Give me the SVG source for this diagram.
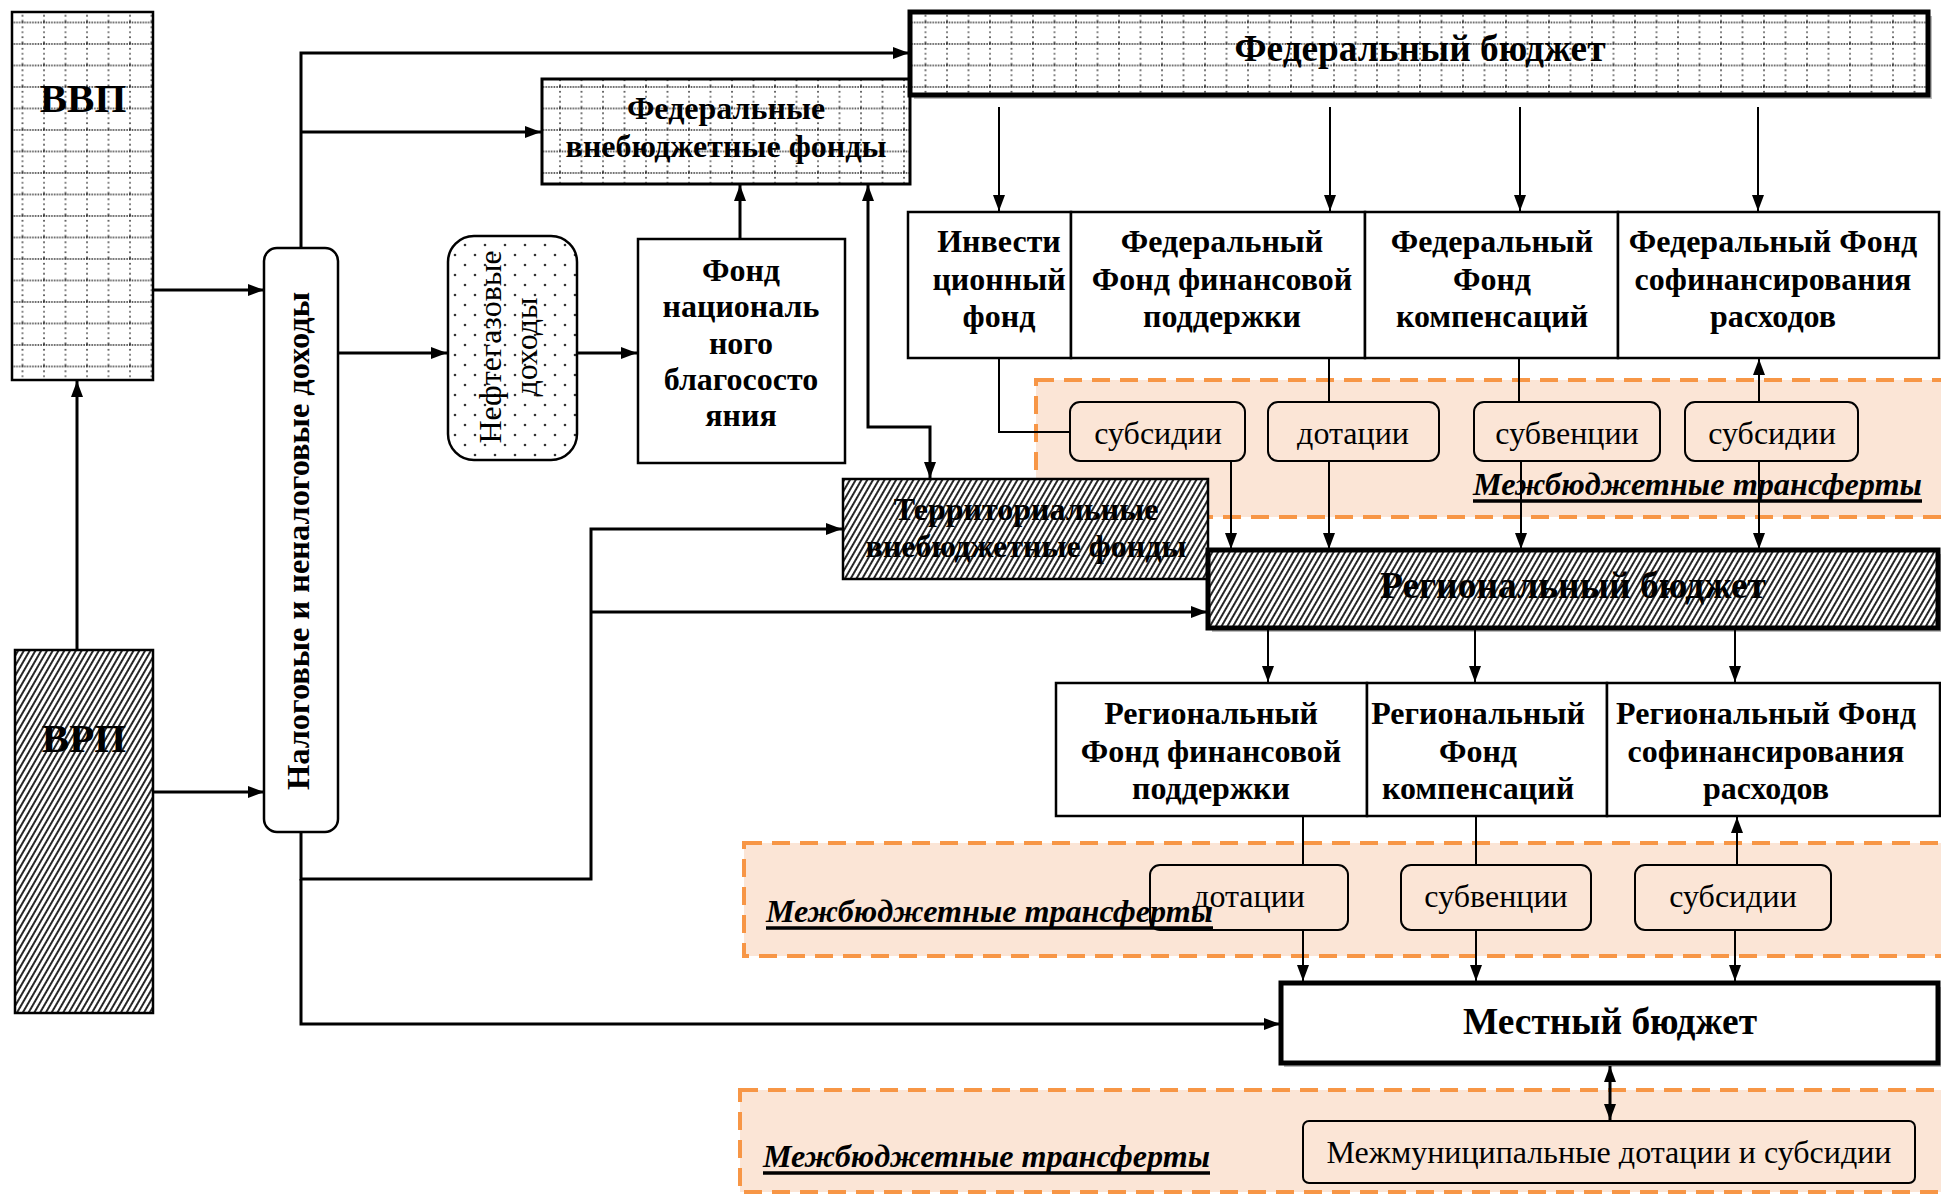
<svg xmlns="http://www.w3.org/2000/svg" width="1941" height="1194" viewBox="0 0 1941 1194">
<style>
.b{font-family:"Liberation Serif","Times New Roman",serif;font-weight:bold;font-size:32px;text-anchor:middle;fill:#000}
.r{font-family:"Liberation Serif","Times New Roman",serif;font-size:32px;text-anchor:middle;fill:#000}
.t{font-family:"Liberation Serif","Times New Roman",serif;font-weight:bold;font-size:37px;text-anchor:middle;fill:#000}
.big{font-family:"Liberation Serif","Times New Roman",serif;font-weight:bold;font-size:41px;text-anchor:middle;fill:#000}
.mt{font-family:"Liberation Serif","Times New Roman",serif;font-weight:bold;font-style:italic;font-size:32px;fill:#000}
.box{fill:#fff;stroke:#000;stroke-width:2.5}
.tr{fill:#fbe5d6;stroke:#000;stroke-width:2}
.reg{fill:#fbe5d6;stroke:#f79646;stroke-width:4;stroke-dasharray:18 10}
.ul{stroke:#000;stroke-width:3.5}
.c{fill:none;stroke:#000;stroke-width:3}
.c2{fill:none;stroke:#000;stroke-width:2}
.ar{marker-end:url(#ah)}
.ar2{marker-start:url(#ah);marker-end:url(#ah)}
</style>
<defs>
<marker id="ah" viewBox="0 0 16 12" refX="16" refY="6" markerWidth="16" markerHeight="12" markerUnits="userSpaceOnUse" orient="auto-start-reverse"><path d="M0,0L16,6L0,12z" fill="#000"/></marker>
<pattern id="grid" width="21.5" height="21.5" patternUnits="userSpaceOnUse">
<rect width="21.5" height="21.5" fill="#fff"/>
<line x1="0" y1="1" x2="21.5" y2="1" stroke="#222" stroke-width="1.4" stroke-dasharray="1.5 1.2"/>
<line x1="1" y1="0" x2="1" y2="21.5" stroke="#222" stroke-width="1.4" stroke-dasharray="1.5 3.5"/>
</pattern>
<pattern id="hatch" width="5" height="5" patternUnits="userSpaceOnUse" patternTransform="rotate(30)">
<rect width="5" height="5" fill="#fff"/>
<line x1="1" y1="0" x2="1" y2="5" stroke="#000" stroke-width="1.7"/>
</pattern>
<pattern id="dots" width="20" height="20" patternUnits="userSpaceOnUse">
<rect width="20" height="20" fill="#fff"/>
<circle cx="5" cy="5" r="1.3" fill="#333"/>
<circle cx="15" cy="15" r="1.3" fill="#333"/>
</pattern>
</defs>
<rect width="1941" height="1194" fill="#fff"/>

<g id="regions">
<rect class="reg" x="1036" y="380" width="930" height="137"/>
<rect class="reg" x="744" y="843" width="1220" height="113"/>
<rect class="reg" x="740" y="1090" width="1220" height="102"/>
</g>

<g id="vvp"><rect x="12" y="12" width="141" height="368" fill="url(#grid)" stroke="#000" stroke-width="2.5"/><text class="big" x="83" y="112">ВВП</text></g>
<g id="vrp"><rect x="15" y="650" width="138" height="363" fill="url(#hatch)" stroke="#000" stroke-width="2.5"/><text class="big" x="84" y="752">ВРП</text></g>
<g id="nalog"><rect x="264" y="248" width="74" height="584" rx="13" class="box"/><text class="b" transform="translate(309,541) rotate(-90)" textLength="498" lengthAdjust="spacingAndGlyphs">Налоговые и неналоговые доходы</text></g>
<g id="neftegaz"><rect x="448" y="236" width="129" height="224" rx="26" fill="url(#dots)" stroke="#000" stroke-width="2.5"/><text class="r" transform="translate(501,347) rotate(-90)">Нефтегазовые</text><text class="r" transform="translate(537,347) rotate(-90)">доходы</text></g>
<g id="fnb"><rect x="638" y="239" width="207" height="224" class="box" stroke-width="2"/>
<text class="b" x="741" y="281">Фонд</text><text class="b" x="741" y="317">националь</text><text class="b" x="741" y="354">ного</text><text class="b" x="741" y="390">благососто</text><text class="b" x="741" y="426">яния</text></g>
<g id="fed-vbf"><rect x="542" y="79" width="368" height="105" fill="url(#grid)" stroke="#000" stroke-width="3"/><text class="b" x="726" y="119">Федеральные</text><text class="b" x="726" y="157">внебюджетные фонды</text></g>
<g id="fed-budget"><rect x="914" y="16" width="1018" height="83" fill="#bbb"/><rect x="910" y="12" width="1018" height="83" fill="url(#grid)" stroke="#000" stroke-width="5"/><text class="t" x="1420" y="61" textLength="371" lengthAdjust="spacingAndGlyphs">Федеральный бюджет</text></g>
<g id="terr-vbf"><rect x="843" y="479" width="365" height="100" fill="url(#hatch)" stroke="#000" stroke-width="2.5"/><text class="b" x="1026" y="520">Территориальные</text><text class="b" x="1026" y="557">внебюджетные фонды</text></g>

<g id="fed-invest"><rect x="908" y="212" width="163" height="146" class="box"/><text class="b" x="999" y="252">Инвести</text><text class="b" x="999" y="290">ционный</text><text class="b" x="999" y="327">фонд</text></g>
<g id="fed-ffp"><rect x="1071" y="212" width="294" height="146" class="box"/><text class="b" x="1222" y="252">Федеральный</text><text class="b" x="1222" y="290">Фонд финансовой</text><text class="b" x="1222" y="327">поддержки</text></g>
<g id="fed-fk"><rect x="1365" y="212" width="253" height="146" class="box"/><text class="b" x="1492" y="252">Федеральный</text><text class="b" x="1492" y="290">Фонд</text><text class="b" x="1492" y="327">компенсаций</text></g>
<g id="fed-fsr"><rect x="1618" y="212" width="321" height="146" class="box"/><text class="b" x="1773" y="252">Федеральный Фонд</text><text class="b" x="1773" y="290">софинансирования</text><text class="b" x="1773" y="327">расходов</text></g>

<g id="tr1-subsidii"><rect x="1070" y="402" width="175" height="59" rx="10" class="tr"/><text class="r" x="1158" y="444">субсидии</text></g>
<g id="tr1-dotacii"><rect x="1268" y="402" width="171" height="59" rx="10" class="tr"/><text class="r" x="1353" y="444">дотации</text></g>
<g id="tr1-subvencii"><rect x="1474" y="402" width="186" height="59" rx="10" class="tr"/><text class="r" x="1567" y="444">субвенции</text></g>
<g id="tr1-subsidii2"><rect x="1685" y="402" width="173" height="59" rx="10" class="tr"/><text class="r" x="1772" y="444">субсидии</text></g>

<g id="reg-budget"><rect x="1212" y="554" width="730" height="78" fill="#bbb"/><rect x="1208" y="550" width="730" height="78" fill="url(#hatch)" stroke="#000" stroke-width="5"/><text class="t" x="1573" y="598" textLength="386" lengthAdjust="spacingAndGlyphs">Региональный бюджет</text></g>

<g id="reg-ffp"><rect x="1056" y="683" width="311" height="133" class="box"/><text class="b" x="1211" y="724">Региональный</text><text class="b" x="1211" y="762">Фонд финансовой</text><text class="b" x="1211" y="799">поддержки</text></g>
<g id="reg-fk"><rect x="1367" y="683" width="240" height="133" class="box"/><text class="b" x="1478" y="724">Региональный</text><text class="b" x="1478" y="762">Фонд</text><text class="b" x="1478" y="799">компенсаций</text></g>
<g id="reg-fsr"><rect x="1607" y="683" width="333" height="133" class="box"/><text class="b" x="1766" y="724">Региональный Фонд</text><text class="b" x="1766" y="762">софинансирования</text><text class="b" x="1766" y="799">расходов</text></g>

<g id="tr2-dotacii"><rect x="1150" y="865" width="198" height="65" rx="10" class="tr"/><text class="r" x="1249" y="907">дотации</text></g>
<g id="tr2-subvencii"><rect x="1401" y="865" width="190" height="65" rx="10" class="tr"/><text class="r" x="1496" y="907">субвенции</text></g>
<g id="tr2-subsidii"><rect x="1635" y="865" width="196" height="65" rx="10" class="tr"/><text class="r" x="1733" y="907">субсидии</text></g>

<g id="local-budget"><rect x="1284" y="987" width="660" height="80" fill="#bbb"/><rect x="1281" y="983" width="657" height="80" fill="#fff" stroke="#000" stroke-width="5"/><text class="t" x="1610" y="1034" textLength="294" lengthAdjust="spacingAndGlyphs">Местный бюджет</text></g>
<g id="mezhmun"><rect x="1303" y="1121" width="612" height="62" rx="6" class="tr"/><text class="r" x="1609" y="1163" textLength="565" lengthAdjust="spacingAndGlyphs">Межмуниципальные дотации и субсидии</text></g>

<g id="region-labels">
<text class="mt" x="1473" y="495" textLength="449" lengthAdjust="spacingAndGlyphs">Межбюджетные трансферты</text><line class="ul" x1="1473" y1="501" x2="1922" y2="501"/>
<text class="mt" x="766" y="922" textLength="447" lengthAdjust="spacingAndGlyphs">Межбюджетные трансферты</text><line class="ul" x1="766" y1="928" x2="1213" y2="928"/>
<text class="mt" x="763" y="1167" textLength="447" lengthAdjust="spacingAndGlyphs">Межбюджетные трансферты</text><line class="ul" x1="763" y1="1173" x2="1210" y2="1173"/>
</g>

<g id="connectors">
<path class="c ar" d="M77,650V381"/>
<path class="c ar" d="M153,290H264"/>
<path class="c ar" d="M153,792H264"/>
<path class="c ar" d="M301,248V53H909"/>
<path class="c ar" d="M301,132H541"/>
<path class="c ar" d="M338,353H447"/>
<path class="c ar" d="M577,353H637"/>
<path class="c ar" d="M740,239V185"/>
<path class="c ar2" d="M868,185V427H930V478"/>
<path class="c ar" d="M301,832V879H591V529H842"/>
<path class="c ar" d="M591,612H1207"/>
<path class="c ar" d="M301,879V1024H1280"/>
<path class="c2 ar" d="M999,107V211"/>
<path class="c2 ar" d="M1330,107V211"/>
<path class="c2 ar" d="M1520,107V211"/>
<path class="c2 ar" d="M1758,107V211"/>
<path class="c2" d="M999,358V432H1070"/>
<path class="c2 ar" d="M1231,461V549"/>
<path class="c2" d="M1329,358V402"/>
<path class="c2 ar" d="M1329,461V549"/>
<path class="c2" d="M1519,358V403"/>
<path class="c2 ar" d="M1521,461V549"/>
<path class="c2 ar" d="M1759,402V359"/>
<path class="c2 ar" d="M1759,461V549"/>
<path class="c2 ar" d="M1268,630V682"/>
<path class="c2 ar" d="M1475,630V682"/>
<path class="c2 ar" d="M1735,630V682"/>
<path class="c2" d="M1303,816V865"/>
<path class="c2 ar" d="M1303,930V981"/>
<path class="c2" d="M1476,816V865"/>
<path class="c2 ar" d="M1476,930V981"/>
<path class="c2 ar" d="M1737,865V817"/>
<path class="c2 ar" d="M1735,930V981"/>
<path class="c ar2" d="M1610,1066V1120"/>
</g>
</svg>
